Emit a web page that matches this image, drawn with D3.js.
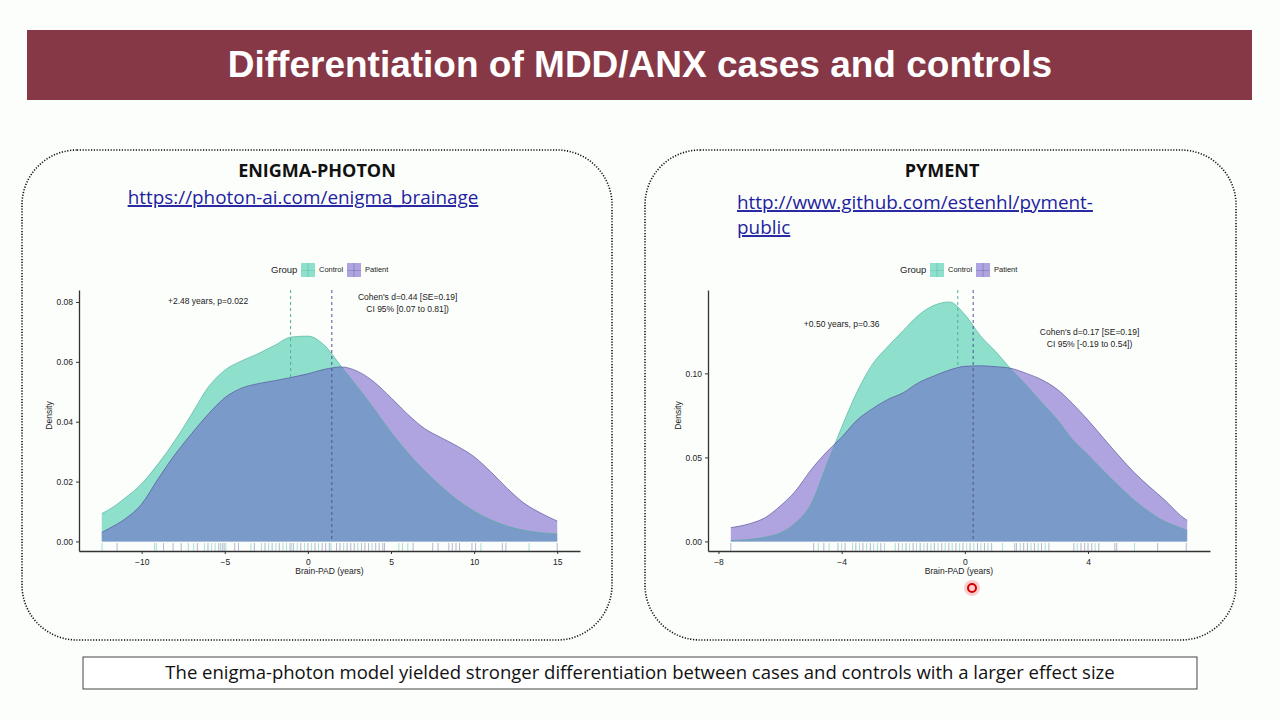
<!DOCTYPE html>
<html><head><meta charset="utf-8">
<script src="https://cdn.jsdelivr.net/npm/d3@7"></script>
<style>
html,body{margin:0;padding:0;background:#fcfefc;}
svg{display:block;}
</style></head>
<body>
<svg id="chart" width="1280" height="720"></svg>
<script>
// ---------------- DATA ----------------
const slideTitle = "Differentiation of MDD/ANX cases and controls";
const caption = "The enigma-photon model yielded stronger differentiation between cases and controls with a larger effect size";
const groups = ["Control", "Patient"];

// Left panel: ENIGMA-PHOTON
const leftTitle = "ENIGMA-PHOTON";
const leftLink = ["https://photon-ai.com/enigma_brainage"];
const leftGrid = [-12.4,-12,-11,-10,-9,-8,-7,-6,-5,-4,-3,-2,-1,0,1,2,3,4,5,6,7,8,9,10,11,12,13,14,15];
const leftControl = [0.0093,0.0105,0.0145,0.0193,0.026,0.0337,0.0425,0.0515,0.0572,0.0603,0.0627,0.0655,0.0683,0.0686,0.0655,0.0585,0.0515,0.0442,0.0365,0.0297,0.0237,0.0185,0.0138,0.0101,0.0072,0.0051,0.0037,0.0029,0.0025];
const leftPatient = [0.003,0.0042,0.0075,0.0125,0.021,0.029,0.036,0.0425,0.048,0.0512,0.0527,0.0537,0.0548,0.056,0.0575,0.0583,0.0568,0.0532,0.048,0.0425,0.0378,0.0347,0.0318,0.0283,0.0233,0.0177,0.0128,0.0095,0.0068];
const leftMeans = [-1.04, 1.44];
const leftRugControl = [-12.38,-9.23,-9.12,-7.19,-6.87,-6.22,-5.79,-5.58,-5.26,-4.94,-3.43,-2.79,-2.36,-1.93,-1.50,-1.29,-0.97,-0.64,-0.21,0.21,0.64,1.39,2.15,3.0,3.86,5.47,5.69,6.01,10.41,13.30];
const leftRugPatient = [-11.48,-8.69,-8.11,-7.62,-6.65,-6.01,-5.36,-5.15,-5.04,-4.40,-4.18,-3.22,-2.58,-2.15,-1.72,-1.07,-0.86,-0.43,0,0.43,0.86,1.07,1.29,1.72,1.93,2.36,2.58,2.79,3.22,3.43,3.65,4.08,4.29,4.51,4.61,6.33,7.51,7.83,8.48,8.69,8.91,9.12,9.87,10.09,11.70,11.91,15.0];
const leftXTicks = [-10,-5,0,5,10,15];
const leftYTicks = [0,0.02,0.04,0.06,0.08];
const leftAnnot1 = {x:-6, y:0.08, lines:["+2.48 years, p=0.022"]};
const leftAnnot2 = {x:6, y:0.0815, lines:["Cohen's d=0.44 [SE=0.19]","CI 95% [0.07 to 0.81])"]};

// Right panel: PYMENT
const rightTitle = "PYMENT";
const rightLink = ["http://www.github.com/estenhl/pyment-","public"];
const rightGrid = [-7.6,-7,-6.5,-6,-5.5,-5,-4.5,-4,-3.5,-3,-2.5,-2,-1.5,-1,-0.5,0,0.5,1,1.5,2,2.5,3,3.5,4,4.5,5,5.5,6,6.5,7,7.22];
const rightControl = [0.0005,0.0012,0.0025,0.005,0.011,0.022,0.045,0.068,0.089,0.1055,0.116,0.1255,0.1347,0.1405,0.1425,0.135,0.1225,0.113,0.1025,0.093,0.0825,0.0725,0.0605,0.0515,0.042,0.033,0.0245,0.0175,0.0118,0.0082,0.0065];
const rightPatient = [0.0082,0.0105,0.014,0.021,0.030,0.0425,0.053,0.062,0.0722,0.079,0.0845,0.0885,0.0945,0.0985,0.102,0.1042,0.1045,0.104,0.103,0.1,0.0962,0.0905,0.082,0.0722,0.0615,0.051,0.041,0.0325,0.0245,0.0155,0.0125];
const rightMeans = [-0.23, 0.27];
const rightRugControl = [-4.76,-4.41,-4.0,-3.65,-3.42,-3.19,-2.96,-2.84,-2.61,-2.26,-2.03,-1.80,-1.57,-1.33,-1.10,-0.87,-0.64,-0.41,-0.17,0.06,0.29,0.52,0.75,1.22,1.80,2.15,2.38,2.61,3.65,4.23,5.51];
const rightRugPatient = [-7.60,-4.91,-4.58,-4.12,-3.89,-3.54,-3.31,-3.07,-2.73,-2.15,-1.91,-1.68,-1.45,-1.22,-0.99,-0.75,-0.52,-0.29,-0.06,0.17,0.41,0.64,0.87,1.62,1.68,1.91,2.03,2.26,2.49,2.73,3.54,3.77,3.89,4.0,4.12,4.35,4.87,4.93,6.26,7.19];
const rightXTicks = [-8,-4,0,4];
const rightYTicks = [0,0.05,0.10];
const rightAnnot1 = {x:-4.0, y:0.129, lines:["+0.50 years, p=0.36"]};
const rightAnnot2 = {x:4.05, y:0.124, lines:["Cohen's d=0.17 [SE=0.19]","CI 95% [-0.19 to 0.54])"]};

// ---------------- STYLE ----------------
const C = {
  teal:"#8ee0cc", purple:"#b0a4e0", overlap:"#7a9bca",
  tealLine:"#4fae98", purpleLine:"#4f4f96",
  tealRug:"#7ccfbd", purpleRug:"#8a86b8",
  header:"#873846", link:"#1f1fa0", axis:"#333"
};
const chartFont = "'Liberation Sans', Arial, sans-serif";
const slideFont = "'Open Sans', 'Noto Sans', sans-serif";

const svg = d3.select("#chart");
svg.append("rect").attr("width",1280).attr("height",720).attr("fill","#fcfefc");

// header
svg.append("rect").attr("x",27).attr("y",30).attr("width",1225).attr("height",70).attr("fill",C.header);
svg.append("text").attr("x",640).attr("y",67).attr("text-anchor","middle").attr("dominant-baseline","middle")
  .attr("fill","#fff").attr("font-family",chartFont).attr("font-weight","bold").attr("font-size",37)
  .text(slideTitle);

// panels
[[22,150,590,490],[645,150,591,490]].forEach(([x,y,w,h])=>{
  svg.append("rect").attr("x",x).attr("y",y).attr("width",w).attr("height",h).attr("rx",55).attr("ry",55)
    .attr("fill","none").attr("stroke","#111").attr("stroke-width",1.6).attr("stroke-dasharray","1.2,1.6");
});

// caption
svg.append("rect").attr("x",83).attr("y",657).attr("width",1114).attr("height",32).attr("fill","#fff").attr("stroke","#444").attr("stroke-width",1);
svg.append("text").attr("x",640).attr("y",674).attr("text-anchor","middle").attr("dominant-baseline","middle")
  .attr("font-family",slideFont).attr("font-size",18.5).attr("fill","#111").text(caption);

function panelHeader(cx, title, linkLines, linkX, linkY0, anchor){
  svg.append("text").attr("x",cx).attr("y",172).attr("text-anchor","middle").attr("dominant-baseline","middle")
    .attr("font-family",slideFont).attr("font-weight","bold").attr("font-size",18).attr("fill","#111").text(title);
  linkLines.forEach((t,i)=>{
    svg.append("text").attr("x",linkX).attr("y",linkY0+i*25).attr("text-anchor",anchor).attr("dominant-baseline","middle")
      .attr("font-family",slideFont).attr("font-size",18.9).attr("fill",C.link).attr("text-decoration","underline").text(t);
  });
}
panelHeader(317, leftTitle, leftLink, 303, 199, "middle");
panelHeader(942, rightTitle, rightLink, 737, 204, "start");

function drawChart(o){
  const xs = o.grid;
  const allX = xs.concat(o.rugC, o.rugP);
  const [xmin,xmax] = d3.extent(allX);
  const xpad = (xmax-xmin)*0.05;
  const x = d3.scaleLinear().domain([xmin-xpad, xmax+xpad]).range([o.left, o.right]);
  const ymaxData = Math.max(d3.max(o.control), d3.max(o.patient), o.yAnnot || 0);
  const y = d3.scaleLinear().domain([-ymaxData*0.04, ymaxData*1.05]).range([o.bottom, o.top]);
  const g = svg.append("g");
  const cData = xs.map((v,i)=>[v,o.control[i]]);
  const pData = xs.map((v,i)=>[v,o.patient[i]]);
  const area = d3.area().x(d=>x(d[0])).y0(y(0)).y1(d=>y(d[1])).curve(d3.curveMonotoneX);
  const line = d3.line().x(d=>x(d[0])).y(d=>y(d[1])).curve(d3.curveMonotoneX);
  const clipId = "clip"+o.id;
  g.append("clipPath").attr("id",clipId).append("path").attr("d",area(pData));
  g.append("path").attr("d",area(cData)).attr("fill",C.teal);
  g.append("line").attr("x1",x(o.means[0])).attr("x2",x(o.means[0])).attr("y1",o.top).attr("y2",y(0))
    .attr("stroke",C.tealLine).attr("stroke-width",1).attr("stroke-dasharray","3,3");
  g.append("path").attr("d",area(pData)).attr("fill",C.purple);
  g.append("path").attr("d",area(cData)).attr("fill",C.overlap).attr("clip-path",`url(#${clipId})`);
  g.append("path").attr("d",line(cData)).attr("fill","none").attr("stroke",C.tealLine).attr("stroke-width",0.8).attr("opacity",0.8);
  g.append("path").attr("d",line(pData)).attr("fill","none").attr("stroke",C.purpleLine).attr("stroke-width",0.8).attr("opacity",0.8);
  g.append("line").attr("x1",x(o.means[1])).attr("x2",x(o.means[1])).attr("y1",o.top).attr("y2",y(0))
    .attr("stroke",C.purpleLine).attr("stroke-width",1).attr("stroke-dasharray","3,3");
  // rug
  const rugTop = o.bottom - 8;
  g.selectAll(null).data(o.rugC).enter().append("line")
    .attr("x1",d=>x(d)).attr("x2",d=>x(d)).attr("y1",rugTop).attr("y2",o.bottom)
    .attr("stroke",C.tealRug).attr("stroke-width",0.8).attr("opacity",0.8);
  g.selectAll(null).data(o.rugP).enter().append("line")
    .attr("x1",d=>x(d)).attr("x2",d=>x(d)).attr("y1",rugTop).attr("y2",o.bottom)
    .attr("stroke",C.purpleRug).attr("stroke-width",0.8).attr("opacity",0.75);
  // axes
  const xa = g.append("g").attr("transform",`translate(0,${o.bottom})`)
    .call(d3.axisBottom(x).tickValues(o.xTicks).tickSize(3).tickSizeOuter(0).tickFormat(d3.format("d")));
  const ya = g.append("g").attr("transform",`translate(${o.left},0)`)
    .call(d3.axisLeft(y).tickValues(o.yTicks).tickSize(3).tickSizeOuter(0).tickFormat(d3.format(".2f")));
  [xa,ya].forEach(a=>{
    a.select(".domain").attr("stroke",C.axis).attr("stroke-width",1.3);
    a.selectAll(".tick line").attr("stroke",C.axis);
    a.selectAll("text").attr("font-family",chartFont).attr("font-size",8.5).attr("fill","#222");
  });
  xa.selectAll("text").attr("dy","0.9em");
  g.append("text").attr("x",(o.left+o.right)/2).attr("y",o.bottom+21).attr("text-anchor","middle").attr("dominant-baseline","middle")
    .attr("font-family",chartFont).attr("font-size",8.5).attr("fill","#222").text("Brain-PAD (years)");
  g.append("text").attr("transform",`translate(${o.left-29},${(o.top+o.bottom)/2 - 5}) rotate(-90)`)
    .attr("text-anchor","middle").attr("dominant-baseline","middle")
    .attr("font-family",chartFont).attr("font-size",8.5).attr("fill","#222").text("Density");
  [o.a1,o.a2].forEach(a=>{
    a.lines.forEach((t,i)=>{
      g.append("text").attr("x",x(a.x)).attr("y",y(a.y)+i*12).attr("text-anchor","middle").attr("dominant-baseline","middle")
        .attr("font-family",chartFont).attr("font-size",8.5).attr("fill","#222").text(t);
    });
  });
  // legend
  const lg = g.append("g").attr("transform",`translate(${o.legendX},270)`);
  lg.append("text").attr("x",0).attr("y",0).attr("dominant-baseline","middle").attr("font-family",chartFont)
    .attr("font-size",9.5).attr("fill","#222").text("Group");
  const keys = [{name:groups[0],fill:C.teal,line:C.tealLine,kx:30},{name:groups[1],fill:C.purple,line:C.purpleLine,kx:76}];
  keys.forEach(k=>{
    lg.append("rect").attr("x",k.kx).attr("y",-7).attr("width",14).attr("height",14).attr("fill",k.fill);
    lg.append("line").attr("x1",k.kx+7).attr("x2",k.kx+7).attr("y1",-7).attr("y2",7).attr("stroke",k.line).attr("stroke-width",0.6).attr("opacity",0.6);
    lg.append("line").attr("x1",k.kx).attr("x2",k.kx+14).attr("y1",0.5).attr("y2",0.5).attr("stroke",k.line).attr("stroke-width",0.6).attr("opacity",0.5);
    lg.append("text").attr("x",k.kx+18).attr("y",0).attr("dominant-baseline","middle").attr("font-family",chartFont)
      .attr("font-size",7.5).attr("fill","#222").text(k.name);
  });
}

drawChart({id:"L", left:79, right:580, top:290, bottom:551, grid:leftGrid, control:leftControl, patient:leftPatient,
  means:leftMeans, rugC:leftRugControl, rugP:leftRugPatient, xTicks:leftXTicks, yTicks:leftYTicks,
  yAnnot:leftAnnot1.y, a1:leftAnnot1, a2:leftAnnot2, legendX:271});
drawChart({id:"R", left:708, right:1210, top:290, bottom:551, grid:rightGrid, control:rightControl, patient:rightPatient,
  means:rightMeans, rugC:rightRugControl, rugP:rightRugPatient, xTicks:rightXTicks, yTicks:rightYTicks,
  yAnnot:0, a1:rightAnnot1, a2:rightAnnot2, legendX:900});

// screen-recording cursor marker
svg.append("circle").attr("cx",972).attr("cy",588).attr("r",8).attr("fill","#f4a0a0").attr("opacity",0.5);
svg.append("circle").attr("cx",972).attr("cy",588).attr("r",4).attr("fill","none").attr("stroke","#d40000").attr("stroke-width",2);
</script>
</body></html>
